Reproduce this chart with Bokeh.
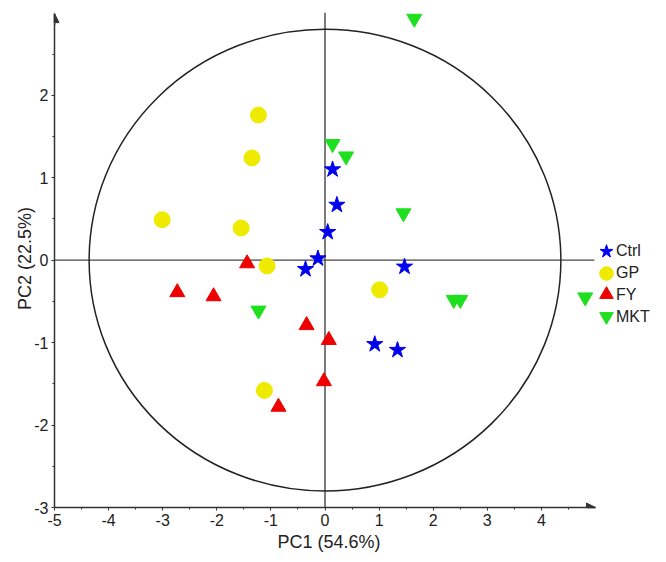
from bokeh.plotting import figure
from bokeh.models import (Range1d, FixedTicker, Legend, LegendItem, Arrow, NormalHead, Title)
from bokeh.embed import file_html
from bokeh.resources import INLINE

# ---- data ----
ctrl_x = [0.14, 0.22, 0.05, -0.13, -0.36, 1.47, 0.92, 1.34]
ctrl_y = [1.10, 0.67, 0.34, 0.02, -0.11, -0.08, -1.02, -1.09]

gp_x = [-1.23, -1.35, -3.01, -1.55, -1.07, 1.01, -1.12]
gp_y = [1.76, 1.24, 0.49, 0.39, -0.07, -0.36, -1.58]

fy_x = [-1.44, -2.73, -2.06, -0.34, 0.07, -0.02, -0.86]
fy_y = [-0.04, -0.39, -0.44, -0.79, -0.97, -1.47, -1.78]

mkt_x = [1.65, 0.14, 0.39, 1.45, -1.23, 2.38, 2.50, 4.81]
mkt_y = [2.93, 1.41, 1.26, 0.57, -0.61, -0.48, -0.48, -0.45]

groups = ["Ctrl", "GP", "FY", "MKT"]

x_ticks = [-5, -4, -3, -2, -1, 0, 1, 2, 3, 4]
x_minor = [-4.5, -3.5, -2.5, -1.5, -0.5, 0.5, 1.5, 2.5, 3.5, 4.5]
y_ticks = [-3, -2, -1, 0, 1, 2]
y_minor = [-2.5, -1.5, -0.5, 0.5, 1.5, 2.5]

x_label = "PC1 (54.6%)"
y_label = "PC2 (22.5%)"

ellipse_rx = 4.36
ellipse_ry = 2.80

FONT = "Liberation Sans"
AX = "#333333"

# the frame is widened to the right so the legend can sit inside it;
# the x axis itself is bounded to [-5, 5]
p = figure(frame_width=606, frame_height=498,
           x_range=Range1d(-5, -5 + 606 / 54.1), y_range=Range1d(-3, 3.04),
           output_backend="svg", toolbar_location=None,
           min_border_left=54, min_border_right=0,
           min_border_top=9, min_border_bottom=10)
p.outline_line_color = None
p.xgrid.visible = False
p.ygrid.visible = False
p.background_fill_color = "white"

for ax, ticks, minor in ((p.xaxis[0], x_ticks, x_minor), (p.yaxis[0], y_ticks, y_minor)):
    ax.ticker = FixedTicker(ticks=ticks, minor_ticks=minor)
    ax.major_label_overrides = {t: str(t) for t in ticks}
    ax.axis_line_color = AX
    ax.axis_line_width = 1.5
    ax.major_tick_line_color = AX
    ax.minor_tick_line_color = AX
    ax.major_tick_in = 0
    ax.major_tick_out = 3
    ax.minor_tick_in = 0
    ax.minor_tick_out = 2
    ax.major_label_text_font = FONT
    ax.major_label_text_font_size = "16px"
    ax.major_label_text_color = "#222222"
    ax.axis_label_text_font = FONT
    ax.axis_label_text_font_size = "18px"
    ax.axis_label_text_font_style = "normal"
    ax.axis_label_text_color = "#222222"

p.xaxis[0].bounds = (-5, 5.0)
p.yaxis[0].bounds = (-3, 2.99)
p.yaxis.axis_label = y_label
p.xaxis.major_label_standoff = 3
p.yaxis.major_label_standoff = 3
p.yaxis.axis_label_standoff = -4

# x axis title, centred under the bounded axis (not under the widened frame)
p.add_layout(Title(text=x_label, align="left", offset=223, standoff=2,
                   text_font=FONT, text_font_size="18px", text_font_style="normal",
                   text_color="#222222"), "below")

# axis arrow heads
p.add_layout(Arrow(end=NormalHead(size=9, fill_color=AX, line_color=AX),
                   x_start=4.85, y_start=-3, x_end=5.0, y_end=-3,
                   line_color=AX, line_width=1.5))
p.add_layout(Arrow(end=NormalHead(size=9, fill_color=AX, line_color=AX),
                   x_start=-5, y_start=2.85, x_end=-5, y_end=2.99,
                   line_color=AX, line_width=1.5))

# cross lines
p.segment(x0=[-5, 0], y0=[0, -3], x1=[4.98, 0], y1=[0, 3.0],
          line_color="#444444", line_width=1.4)

# confidence ellipse
p.ellipse(x=[0], y=[0], width=[2 * ellipse_rx], height=[2 * ellipse_ry],
          fill_color=None, line_color="#222222", line_width=1.5)

r_ctrl = p.scatter(ctrl_x, ctrl_y, marker="star", size=17, fill_color="#0000ee",
                   line_color="#0000ee")
r_gp = p.scatter(gp_x, gp_y, marker="circle", size=16, fill_color="#eeea00",
                 line_color="#eeea00")
r_fy = p.scatter(fy_x, fy_y, marker="triangle", size=15, fill_color="#ee0000",
                 line_color="#ee0000")
r_mkt = p.scatter(mkt_x, mkt_y, marker="inverted_triangle", size=15,
                  fill_color="#1ee01e", line_color="#1ee01e")
renderers = [r_ctrl, r_gp, r_fy, r_mkt]

# legend symbols (one small legend per symbol so that they can sit close together)
for i, r in enumerate(renderers):
    lg = Legend(items=[LegendItem(label=" ", renderers=[r])],
                location=(535, 239 - round(21.6 * i)),
                label_text_font_size="1px",
                glyph_width=34, glyph_height=34, label_height=1, label_width=1,
                spacing=0, padding=0, margin=0, label_standoff=0,
                background_fill_alpha=0, border_line_alpha=0)
    p.add_layout(lg)

# legend texts
legend = Legend(items=[LegendItem(label=g, renderers=[r]) for g, r in zip(groups, renderers)],
                location=(562, 180),
                label_text_font=FONT, label_text_font_size="16px",
                label_text_color="#222222",
                glyph_width=0, glyph_height=20, label_height=20,
                spacing=2, padding=0, margin=0, label_standoff=0,
                background_fill_alpha=0, border_line_alpha=0)
p.add_layout(legend)

open("out.html", "w").write(file_html(p, INLINE))
